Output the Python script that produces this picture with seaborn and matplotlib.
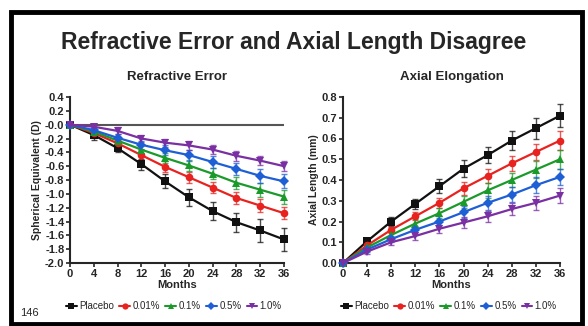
import numpy as np
import pandas as pd
import matplotlib
matplotlib.use("Agg")
import matplotlib.pyplot as plt
from matplotlib.patches import Rectangle
import seaborn as sns

# -------------------------------
# Data
# -------------------------------
months = [0, 4, 8, 12, 16, 20, 24, 28, 32, 36]
groups = ["Placebo", "0.01%", "0.1%", "0.5%", "1.0%"]

# Refractive error (spherical equivalent, D)
se_placebo = [0, -0.15, -0.34, -0.57, -0.82, -1.05, -1.25, -1.41, -1.53, -1.66]
se_001 = [0, -0.12, -0.27, -0.44, -0.61, -0.76, -0.91, -1.06, -1.17, -1.28]
se_01 = [0, -0.10, -0.23, -0.36, -0.48, -0.59, -0.71, -0.84, -0.94, -1.04]
se_05 = [0, -0.08, -0.19, -0.29, -0.37, -0.44, -0.54, -0.64, -0.74, -0.82]
se_10 = [0, -0.03, -0.09, -0.20, -0.26, -0.30, -0.36, -0.45, -0.52, -0.60]

se_err_placebo = [0, 0.07, 0.06, 0.08, 0.10, 0.12, 0.13, 0.14, 0.16, 0.17]
se_err_001 = [0, 0.05, 0.05, 0.07, 0.08, 0.08, 0.08, 0.09, 0.09, 0.09]
se_err_01 = [0, 0.04, 0.05, 0.06, 0.07, 0.08, 0.08, 0.09, 0.10, 0.10]
se_err_05 = [0, 0.04, 0.05, 0.06, 0.07, 0.08, 0.09, 0.09, 0.10, 0.10]
se_err_10 = [0, 0.04, 0.05, 0.05, 0.06, 0.07, 0.07, 0.07, 0.07, 0.07]

# Axial elongation (mm)
al_placebo = [0, 0.105, 0.20, 0.285, 0.37, 0.455, 0.52, 0.59, 0.65, 0.71]
al_001 = [0, 0.085, 0.16, 0.225, 0.29, 0.36, 0.42, 0.48, 0.535, 0.59]
al_01 = [0, 0.075, 0.135, 0.19, 0.24, 0.295, 0.35, 0.40, 0.45, 0.50]
al_05 = [0, 0.065, 0.115, 0.16, 0.20, 0.245, 0.29, 0.33, 0.375, 0.415]
al_10 = [0, 0.055, 0.10, 0.13, 0.165, 0.195, 0.225, 0.26, 0.29, 0.325]

al_err_placebo = [0, 0.012, 0.02, 0.025, 0.035, 0.04, 0.04, 0.045, 0.05, 0.055]
al_err_001 = [0, 0.01, 0.015, 0.02, 0.025, 0.03, 0.035, 0.035, 0.04, 0.045]
al_err_01 = [0, 0.01, 0.015, 0.02, 0.025, 0.03, 0.035, 0.035, 0.04, 0.045]
al_err_05 = [0, 0.01, 0.015, 0.02, 0.025, 0.03, 0.035, 0.035, 0.04, 0.04]
al_err_10 = [0, 0.01, 0.015, 0.02, 0.02, 0.025, 0.025, 0.03, 0.035, 0.035]

se_values = [se_placebo, se_001, se_01, se_05, se_10]
se_errors = [se_err_placebo, se_err_001, se_err_01, se_err_05, se_err_10]
al_values = [al_placebo, al_001, al_01, al_05, al_10]
al_errors = [al_err_placebo, al_err_001, al_err_01, al_err_05, al_err_10]

colors = ["#111111", "#e8231f", "#1b9a2b", "#1e5fd6", "#7a2fa2"]
markers = ["s", "o", "^", "D", "v"]


def to_long(values, errors):
    rows = []
    for g, vals, errs in zip(groups, values, errors):
        for m, v, e in zip(months, vals, errs):
            rows.append({"Months": m, "Value": v, "Err": e, "Group": g})
    return pd.DataFrame(rows)


se_df = to_long(se_values, se_errors)
al_df = to_long(al_values, al_errors)

sns.set_style("ticks")
plt.rcParams["font.family"] = ["Liberation Sans", "DejaVu Sans"]
plt.rcParams["font.weight"] = "bold"

fig = plt.figure(figsize=(5.88, 3.26), dpi=100)
ax1 = fig.add_axes([70 / 588, 1 - 263 / 326, 214 / 588, 166 / 326])
ax2 = fig.add_axes([343 / 588, 1 - 263 / 326, 217 / 588, 166 / 326])

palette = dict(zip(groups, colors))
marker_map = dict(zip(groups, markers))


def draw(ax, df):
    for g in groups:
        sub = df[df["Group"] == g]
        ax.errorbar(sub["Months"], sub["Value"], yerr=sub["Err"], fmt="none",
                    ecolor=palette[g], elinewidth=1.0, capsize=2.5, capthick=1.0,
                    alpha=0.75, zorder=3, clip_on=False)
    sns.lineplot(data=df, x="Months", y="Value", hue="Group", style="Group",
                 palette=palette, markers=marker_map, dashes=False,
                 markersize=5.5, markeredgewidth=0, linewidth=1.6,
                 ax=ax, zorder=4, clip_on=False, legend=False)
    ax.set_xlim(0, 36)
    ax.set_xticks(months)
    ax.set_xlabel("Months", fontsize=8, fontweight="bold", labelpad=1)
    for s in ["top", "right"]:
        ax.spines[s].set_visible(False)
    for s in ["left", "bottom"]:
        ax.spines[s].set_linewidth(1.5)
    ax.tick_params(width=1.2, length=3, labelsize=8, pad=1)
    for lbl in ax.get_xticklabels() + ax.get_yticklabels():
        lbl.set_fontweight("bold")


draw(ax1, se_df)
ax1.axhline(0, color="#555555", lw=1.5, zorder=2)
ax1.set_ylim(-2.0, 0.4)
se_ticks = np.arange(-2.0, 0.41, 0.2)
ax1.set_yticks(se_ticks)
ax1.set_yticklabels([f"{t:.1f}" for t in se_ticks], fontweight="bold")
ax1.set_ylabel("Spherical Equivalent (D)", fontsize=7.5, fontweight="bold", labelpad=2)
ax1.set_title("Refractive Error", fontsize=9.5, fontweight="bold", pad=12)

draw(ax2, al_df)
ax2.set_ylim(0, 0.8)
al_ticks = np.arange(0, 0.81, 0.1)
ax2.set_yticks(al_ticks)
ax2.set_yticklabels([f"{t:.1f}" for t in al_ticks], fontweight="bold")
ax2.set_ylabel("Axial Length (mm)", fontsize=7.5, fontweight="bold", labelpad=2)
ax2.set_title("Axial Elongation", fontsize=9.5, fontweight="bold", pad=12)

# legends built from the same styles
handles = [plt.Line2D([0], [0], color=c, marker=m, markersize=4.5, lw=1.5,
                      markeredgewidth=0) for c, m in zip(colors, markers)]
for xc in [174 / 588, 449 / 588]:
    fig.legend(handles, groups, loc="center", bbox_to_anchor=(xc, 1 - 306 / 326),
               ncol=5, frameon=False, handlelength=1.1,
               handletextpad=0.25, columnspacing=0.55,
               prop={"weight": "normal", "size": 7})

fig.text(0.5, 1 - 42 / 326, "Refractive Error and Axial Length Disagree",
         ha="center", va="center", fontsize=16.5, fontweight="bold")
fig.text(20 / 588, 1 - 313 / 326, "146", ha="left", va="center",
         fontsize=8, fontweight="normal")

# slide frame
fig.patches.append(Rectangle((10.5 / 588, 2 / 326), 571 / 588, 312 / 326,
                             transform=fig.transFigure, fill=False,
                             edgecolor="black", linewidth=3.5))

fig.savefig("out.png", dpi=100)
